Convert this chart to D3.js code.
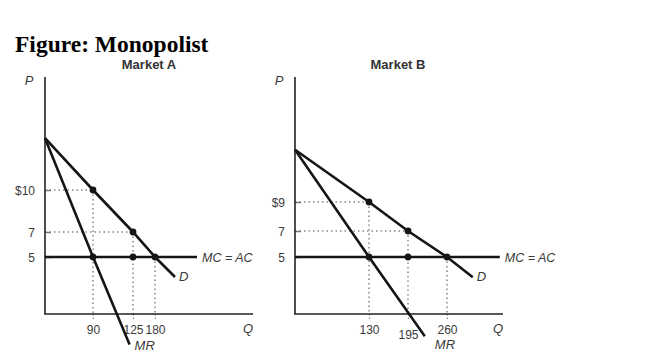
<!DOCTYPE html>
<html><head><meta charset="utf-8">
<script src="https://cdn.jsdelivr.net/npm/d3@7"></script>
<style>
html,body{margin:0;padding:0;background:#fff;}
svg{display:block;}
</style></head>
<body>
<svg id="chart" width="650" height="355"></svg>
<script>
// ---------- DATA ----------
const figureTitle = "Figure: Monopolist";
const panelTitles = ["Market A", "Market B"];

// Market A
const qTicksA = [90, 125, 180];
const pTicksA = [5, 7, 10];
const pLabelsA = ["5", "7", "$10"];
const demandA = [[0, 13.7], [90, 10], [125, 7], [180, 5], [230, 3.4]];
const mrA = [[0, 13.7], [90, 5], [122, -2]];
const mcA = [[0, 5], [285, 5]];
const pointsA = [[90, 10], [125, 7], [90, 5], [125, 5], [180, 5]];
const guidesA = [[90, 10], [125, 7], [180, 5]];

// Market B
const qTicksB = [130, 195, 260];
const pTicksB = [5, 7, 9];
const pLabelsB = ["5", "7", "$9"];
const demandB = [[0, 12.6], [130, 9], [195, 7], [260, 5], [303, 3.45]];
const mrB = [[0, 12.6], [130, 5], [223, -1.1]];
const mcB = [[0, 5], [348, 5]];
const pointsB = [[130, 9], [195, 7], [130, 5], [195, 5], [260, 5]];
const guidesB = [[130, 9], [195, 7], [260, 5]];

const curveLabels = { D: "D", MR: "MR", MC: "MC = AC", P: "P", Q: "Q" };

// ---------- LAYOUT ----------
const panels = [
  { title: panelTitles[0], qTicks: qTicksA, pTicks: pTicksA, pLabels: pLabelsA,
    demand: demandA, mr: mrA, mc: mcA, points: pointsA, guides: guidesA,
    x0: 45, xEnd: 253, yTop: 77, yBot: 314,
    qRange: [45, 93, 133, 155], pRange: [257, 232, 190],
    titleX: 149, labelDy: [0, 0, 0], mrOff: [5, 5] },
  { title: panelTitles[1], qTicks: qTicksB, pTicks: pTicksB, pLabels: pLabelsB,
    demand: demandB, mr: mrB, mc: mcB, points: pointsB, guides: guidesB,
    x0: 295, xEnd: 503, yTop: 77, yBot: 314,
    qRange: [295, 369, 408, 447], pRange: [257, 231, 202],
    titleX: 398, labelDy: [0, 5, 0], mrOff: [10, 13] }
];

const svg = d3.select("#chart");
const sans = "Arial, 'Liberation Sans', Helvetica, sans-serif";
const textCol = "#3a3a3a";
const lineCol = "#151515";

svg.append("text")
  .attr("x", 15).attr("y", 52)
  .attr("font-family", "'Times New Roman', 'Liberation Serif', serif")
  .attr("font-weight", "bold").attr("font-size", 23.5)
  .attr("fill", "#000")
  .text(figureTitle);

panels.forEach(pn => {
  const g = svg.append("g");
  const x = d3.scaleLinear().domain([0, ...pn.qTicks]).range(pn.qRange);
  const y = d3.scaleLinear().domain(pn.pTicks).range(pn.pRange);
  const line = d3.line().x(d => x(d[0])).y(d => y(d[1]));

  // panel title
  g.append("text").attr("x", pn.titleX).attr("y", 69)
    .attr("text-anchor", "middle").attr("font-family", sans)
    .attr("font-weight", "bold").attr("font-size", 13).attr("fill", "#333")
    .text(pn.title);

  // dotted guides
  pn.guides.forEach(d => {
    g.append("line").attr("x1", pn.x0).attr("x2", x(d[0]))
      .attr("y1", y(d[1])).attr("y2", y(d[1]))
      .attr("stroke", "#888").attr("stroke-width", 1.5)
      .attr("stroke-dasharray", "1.5,3");
    g.append("line").attr("x1", x(d[0])).attr("x2", x(d[0]))
      .attr("y1", y(d[1])).attr("y2", pn.yBot)
      .attr("stroke", "#888").attr("stroke-width", 1.5)
      .attr("stroke-dasharray", "1.5,3");
  });

  // axes ticks
  const yAx = d3.axisLeft(y).tickValues(pn.pTicks).tickSize(-6)
    .tickFormat((d, i) => pn.pLabels[i]).tickPadding(10);
  const ya = g.append("g").attr("transform", `translate(${pn.x0},0)`).call(yAx);
  ya.select(".domain").remove();
  ya.selectAll("line").attr("stroke", "#777").attr("stroke-width", 1.5);
  ya.selectAll("text").attr("font-family", sans).attr("font-size", 12)
    .attr("fill", textCol).attr("dy", "0.35em");

  const xAx = d3.axisBottom(x).tickValues(pn.qTicks).tickSize(5).tickPadding(6);
  const xa = g.append("g").attr("transform", `translate(0,${pn.yBot})`).call(xAx);
  xa.select(".domain").remove();
  xa.selectAll("line").attr("stroke", "#888").attr("stroke-width", 1.2)
    .attr("stroke-dasharray", "1.5,2");
  xa.selectAll("text").attr("font-family", sans).attr("font-size", 12)
    .attr("fill", textCol).attr("dy", (d, i) => (0.71 * 12 + pn.labelDy[i]) + "px");

  // axis lines
  g.append("line").attr("x1", pn.x0).attr("x2", pn.x0)
    .attr("y1", pn.yTop).attr("y2", pn.yBot)
    .attr("stroke", "#222").attr("stroke-width", 1.6);
  g.append("line").attr("x1", pn.x0 - 0.8).attr("x2", pn.xEnd)
    .attr("y1", pn.yBot).attr("y2", pn.yBot)
    .attr("stroke", "#222").attr("stroke-width", 1.6);

  // axis labels
  g.append("text").attr("x", pn.x0 - 16).attr("y", 85)
    .attr("text-anchor", "middle").attr("font-family", sans)
    .attr("font-style", "italic").attr("font-size", 13).attr("fill", textCol)
    .text(curveLabels.P);
  g.append("text").attr("x", pn.xEnd - 5).attr("y", 333)
    .attr("text-anchor", "middle").attr("font-family", sans)
    .attr("font-style", "italic").attr("font-size", 13).attr("fill", textCol)
    .text(curveLabels.Q);

  // curves
  [pn.mc, pn.demand, pn.mr].forEach(data => {
    g.append("path").datum(data).attr("d", line)
      .attr("fill", "none").attr("stroke", lineCol)
      .attr("stroke-width", 2.6).attr("stroke-linecap", "butt");
  });

  // points
  g.selectAll("circle.pt").data(pn.points).join("circle")
    .attr("class", "pt").attr("cx", d => x(d[0])).attr("cy", d => y(d[1]))
    .attr("r", 3.4).attr("fill", lineCol);

  // curve labels
  const dEnd = pn.demand[pn.demand.length - 1];
  g.append("text").attr("x", x(dEnd[0]) + 4).attr("y", y(dEnd[1]) + 4)
    .attr("font-family", sans).attr("font-style", "italic")
    .attr("font-size", 13).attr("fill", textCol).text(curveLabels.D);
  const mEnd = pn.mr[pn.mr.length - 1];
  g.append("text").attr("x", x(mEnd[0]) + pn.mrOff[0]).attr("y", y(mEnd[1]) + pn.mrOff[1])
    .attr("font-family", sans).attr("font-style", "italic")
    .attr("font-size", 13).attr("fill", textCol).text(curveLabels.MR);
  const cEnd = pn.mc[pn.mc.length - 1];
  g.append("text").attr("x", x(cEnd[0]) + 5).attr("y", y(cEnd[1]) + 4.5)
    .attr("font-family", sans).attr("font-style", "italic")
    .attr("font-size", 12.5).attr("fill", textCol).text(curveLabels.MC);
});
</script>
</body></html>
